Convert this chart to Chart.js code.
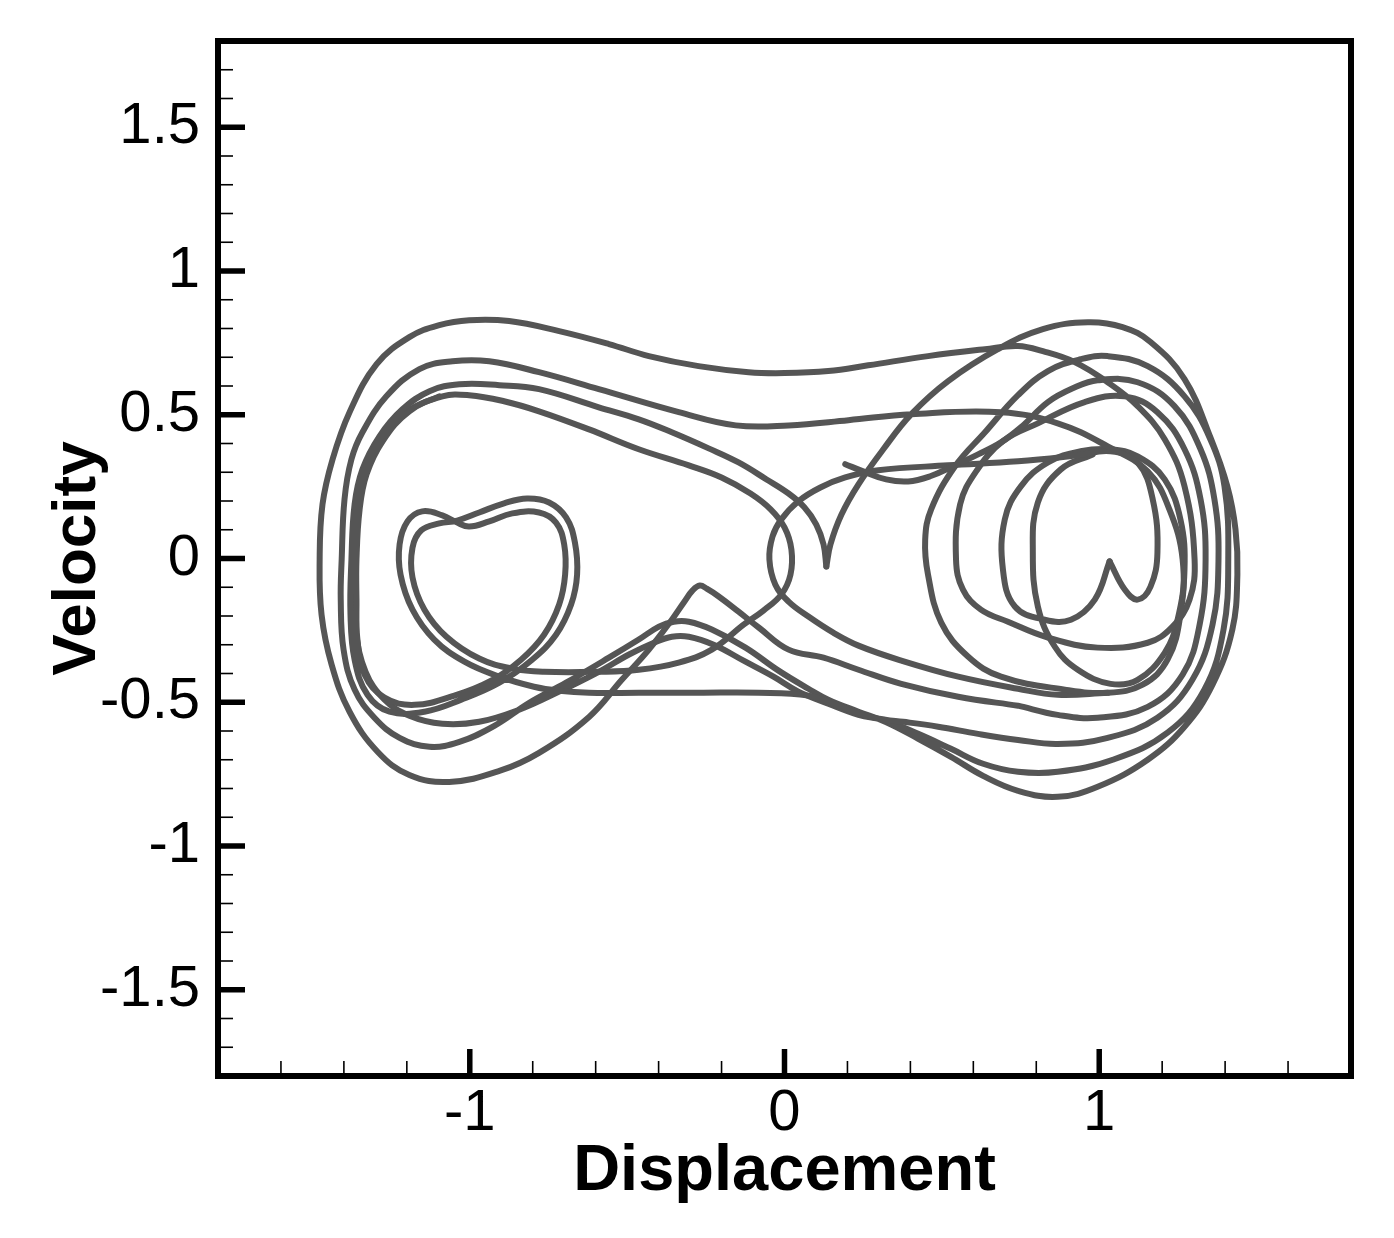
<!DOCTYPE html>
<html>
<head>
<meta charset="utf-8">
<script src="https://cdn.jsdelivr.net/npm/chart.js@4.4.1/dist/chart.umd.min.js"></script>
<style>
  html, body { margin: 0; padding: 0; background: #fff; }
  #wrap { width: 1394px; height: 1238px; position: relative; }
</style>
</head>
<body>
<div id="wrap"><canvas id="phase"></canvas></div>
<script>
// axis setup
const X_RANGE = [-1.8, 1.8];
const Y_RANGE = [-1.8, 1.8];
const xMajorTicks = [-1, 0, 1];
const yMajorTicks = [-1.5, -1, -0.5, 0, 0.5, 1, 1.5];
const X_MINOR_STEP = 0.2;
const Y_MINOR_STEP = 0.1;

// trajectory, traced as [displacement, velocity] pairs, split at the cusps
const startRun = [
  [0.193,0.328],[0.250,0.303],[0.323,0.275],[0.393,0.268],[0.463,0.286],[0.536,0.321],[0.615,0.362],[0.688,0.404],
  [0.751,0.456],[0.837,0.544],[0.916,0.592],[0.995,0.620],[1.122,0.613],[1.239,0.530],[1.322,0.380],[1.366,0.206],
  [1.379,-0.003],[1.360,-0.230],[1.296,-0.422],[1.185,-0.554],[1.027,-0.624],[0.868,-0.645],[0.742,-0.631],
  [0.615,-0.610],[0.488,-0.585],[0.377,-0.568],[0.320,-0.561],
  [0.235,-0.540],[0.155,-0.505],[0.076,-0.477],[-0.082,-0.467],[-0.273,-0.467],[-0.463,-0.467],[-0.621,-0.467],
  [-0.716,-0.460],[-0.796,-0.446],[-0.906,-0.411],[-1.017,-0.359],[-1.113,-0.282],[-1.182,-0.178],[-1.220,-0.056],
  [-1.223,0.049],[-1.198,0.129],[-1.151,0.164],[-1.087,0.150],[-1.040,0.125],[-1.002,0.111],[-0.938,0.129],
  [-0.865,0.157],[-0.780,0.160],[-0.726,0.125],[-0.700,0.049],[-0.697,-0.056],[-0.716,-0.160],[-0.764,-0.265],
  [-0.837,-0.352],[-0.932,-0.425],[-1.049,-0.477],[-1.176,-0.509],
  [-1.271,-0.484],[-1.334,-0.404],[-1.357,-0.282],[-1.360,-0.143],[-1.360,-0.003],[-1.350,0.171],[-1.328,0.293],
  [-1.277,0.408],[-1.192,0.512],[-1.087,0.564],[-1.002,0.568],[-0.891,0.547],[-0.780,0.512],[-0.621,0.449],
  [-0.463,0.380],[-0.304,0.324],[-0.200,0.282],[-0.108,0.226],[-0.044,0.171],[0.000,0.108],[0.022,0.031],
  [0.019,-0.056],[-0.010,-0.125],[-0.067,-0.181],[-0.130,-0.230],[-0.231,-0.317],[-0.336,-0.362],[-0.463,-0.387],
  [-0.590,-0.394],[-0.764,-0.394],[-0.865,-0.383],[-0.970,-0.348],[-1.074,-0.272],[-1.144,-0.178],[-1.182,-0.066],
  [-1.182,0.038],[-1.154,0.098],[-1.097,0.122],[-1.040,0.132],[-0.970,0.160],[-0.891,0.192],[-0.818,0.209],
  [-0.748,0.195],[-0.694,0.143],[-0.666,0.056],[-0.659,-0.056],[-0.678,-0.160],[-0.726,-0.265],[-0.802,-0.352],
  [-0.906,-0.432],[-1.027,-0.491],[-1.144,-0.533],
  [-1.255,-0.533],[-1.325,-0.474],[-1.366,-0.352],[-1.379,-0.195],[-1.376,-0.003],[-1.366,0.188],[-1.341,0.310],
  [-1.287,0.425],[-1.214,0.519],[-1.128,0.582],[-1.033,0.606],[-0.906,0.603],[-0.780,0.589],[-0.590,0.526],
  [-0.463,0.484],[-0.358,0.439],[-0.241,0.383],[-0.146,0.334],[-0.057,0.275],[0.013,0.226],[0.063,0.178],
  [0.101,0.118],[0.124,0.049],[0.133,-0.028]
];

const cuspRun = [
  [0.133,-0.028],[0.146,0.049],[0.181,0.153],[0.235,0.258],[0.314,0.380],[0.403,0.502],[0.520,0.617],[0.678,0.728],
  [0.821,0.798],[0.964,0.822],[1.074,0.805],[1.163,0.753],[1.271,0.624],[1.353,0.422],[1.407,0.251],[1.433,0.101],
  [1.439,-0.056],[1.423,-0.247],[1.360,-0.439],[1.271,-0.585],[1.154,-0.700],[0.995,-0.794],[0.868,-0.829],
  [0.742,-0.808],[0.631,-0.756],[0.529,-0.690],[0.425,-0.627],[0.320,-0.568],
  [0.235,-0.533],[0.139,-0.491],[0.076,-0.453],[-0.019,-0.390],[-0.124,-0.310],[-0.231,-0.247],[-0.304,-0.220],
  [-0.352,-0.220],[-0.399,-0.237],[-0.463,-0.282],[-0.558,-0.345],[-0.694,-0.432],[-0.811,-0.502],[-0.922,-0.582],
  [-1.033,-0.638],[-1.128,-0.655],[-1.223,-0.624],[-1.303,-0.554],[-1.366,-0.456],[-1.401,-0.317],[-1.410,-0.143],
  [-1.407,-0.003],[-1.398,0.206],[-1.376,0.345],[-1.341,0.439],[-1.265,0.564],[-1.160,0.659],[-1.055,0.686],
  [-0.938,0.686],[-0.780,0.648],[-0.590,0.589],[-0.336,0.509],[-0.155,0.463],[0.013,0.463],[0.203,0.481],
  [0.403,0.502],[0.688,0.509],[0.868,0.470],[1.027,0.390],[1.154,0.303],[1.223,0.171],[1.265,-0.003],
  [1.258,-0.195],[1.217,-0.352],[1.138,-0.439],[1.027,-0.467],[0.891,-0.456],[0.688,-0.411],[0.583,-0.341],
  [0.498,-0.223],[0.456,-0.056],[0.447,0.066],[0.466,0.171],[0.542,0.321],[0.637,0.439],[0.742,0.568],
  [0.837,0.652],[0.941,0.693],[1.027,0.704],[1.154,0.669],[1.271,0.564],[1.353,0.415],[1.398,0.251],
  [1.410,-0.003],[1.395,-0.247],[1.334,-0.456],[1.217,-0.606],[1.043,-0.700],[0.868,-0.742],[0.742,-0.742],
  [0.631,-0.714],[0.529,-0.662],[0.425,-0.610],[0.320,-0.564],
  [0.235,-0.544],[0.139,-0.505],[0.044,-0.463],[-0.035,-0.411],[-0.124,-0.359],[-0.225,-0.300],[-0.304,-0.272],
  [-0.358,-0.272],[-0.415,-0.293],[-0.494,-0.334],[-0.590,-0.394],[-0.716,-0.463],[-0.843,-0.526],[-0.970,-0.568],
  [-1.087,-0.575],[-1.192,-0.547],[-1.271,-0.491],[-1.331,-0.394],[-1.363,-0.247],[-1.369,-0.108],[-1.366,0.014],
  [-1.357,0.188],[-1.331,0.310],[-1.281,0.415],[-1.198,0.512],[-1.097,0.564]
];

const outerRun = [
  [0.742,-0.512],[0.552,-0.481],[0.371,-0.436],[0.235,-0.387],[0.124,-0.345],[0.013,-0.317],[-0.082,-0.240],
  [-0.146,-0.185],[-0.209,-0.132],[-0.247,-0.105],[-0.269,-0.094],[-0.292,-0.111],[-0.320,-0.153],[-0.358,-0.213],
  [-0.431,-0.317],[-0.517,-0.422],[-0.621,-0.551],[-0.780,-0.676],[-0.906,-0.739],[-1.065,-0.777],[-1.192,-0.753],
  [-1.293,-0.672],[-1.382,-0.533],[-1.439,-0.369],[-1.471,-0.195],[-1.477,-0.003],[-1.468,0.188],[-1.436,0.345],
  [-1.382,0.509],[-1.296,0.676],[-1.192,0.770],[-1.097,0.812],[-1.002,0.829],[-0.875,0.826],[-0.716,0.791],
  [-0.558,0.746],[-0.431,0.704],[-0.273,0.669],[-0.114,0.648],[0.000,0.645],[0.139,0.652],[0.266,0.672],
  [0.456,0.704],[0.637,0.728],[0.742,0.739],[0.821,0.721],[0.922,0.683],[1.027,0.613],[1.122,0.530],[1.208,0.415],
  [1.271,0.251],[1.303,-0.003],[1.287,-0.143],[1.233,-0.237],[1.154,-0.293],[0.995,-0.310],[0.837,-0.275],
  [0.710,-0.220],[0.624,-0.178],[0.567,-0.108],[0.545,-0.003],[0.558,0.188],[0.609,0.303],[0.694,0.408],
  [0.805,0.470],[0.954,0.544],[1.081,0.564],[1.185,0.509],[1.271,0.380],[1.322,0.206],[1.338,-0.003],
  [1.319,-0.230],[1.265,-0.404],[1.154,-0.516],[0.995,-0.554],[0.868,-0.544],[0.742,-0.512]
];

const ovalRun = [
  [1.027,-0.467],[0.868,-0.474],[0.742,-0.453],[0.552,-0.411],[0.371,-0.355],[0.235,-0.303],[0.155,-0.258],
  [0.076,-0.202],[0.013,-0.150],[-0.029,-0.091],[-0.048,-0.003],[-0.038,0.077],[-0.010,0.136],[0.044,0.199],
  [0.114,0.247],[0.193,0.282],[0.298,0.307],[0.520,0.324],[0.742,0.338],[0.932,0.359],[1.036,0.373],
  [1.122,0.334],[1.170,0.206],[1.185,0.021],[1.163,-0.098],[1.122,-0.143],[1.081,-0.108],[1.033,-0.010]
];

const heartRun = [
  [1.033,-0.010],[0.986,-0.143],[0.910,-0.213],[0.827,-0.213],[0.732,-0.167],[0.694,-0.038],[0.700,0.136],
  [0.751,0.251],[0.837,0.334],[0.941,0.373],[1.036,0.380],[1.122,0.355],[1.208,0.275],[1.258,0.136],
  [1.271,-0.038],[1.249,-0.213],[1.208,-0.328],[1.122,-0.422],[1.036,-0.436],[0.932,-0.387],[0.859,-0.307],
  [0.805,-0.167],[0.789,0.021],[0.805,0.195],[0.878,0.310],[0.979,0.362]
];

const runs = [startRun, cuspRun, outerRun, ovalRun, heartRun];

const LINE_COLOR = 'rgb(85,85,85)';
const LINE_WIDTH = 6;
const FONT = "'Liberation Sans', Arial, sans-serif";

function stepsBetween(lo, hi, step, skip) {
  const out = [];
  const n = Math.round((hi - lo) / step);
  for (let i = 1; i < n; i++) {
    const v = +(lo + i * step).toFixed(3);
    if (!skip.some(s => Math.abs(s - v) < 1e-6)) out.push(v);
  }
  return out;
}

// no automatic label overflow padding: the frame sits where the original has it
function fixBox(s, key, size) {
  s[key] = size;
  s.paddingTop = 0; s.paddingBottom = 0; s.paddingLeft = 0; s.paddingRight = 0;
}

// frame and inward ticks, drawn over the data like the original
const frameAndTicks = {
  id: 'frameAndTicks',
  afterDraw(chart) {
    const { ctx, chartArea: a, scales: { x, y } } = chart;
    const seg = (x1, y1, x2, y2) => { ctx.beginPath(); ctx.moveTo(x1, y1); ctx.lineTo(x2, y2); ctx.stroke(); };
    ctx.save();
    ctx.strokeStyle = '#000';
    ctx.lineWidth = 1.6;
    stepsBetween(X_RANGE[0], X_RANGE[1], X_MINOR_STEP, xMajorTicks).forEach(v => {
      const p = x.getPixelForValue(v); seg(p, a.bottom, p, a.bottom - 15);
    });
    stepsBetween(Y_RANGE[0], Y_RANGE[1], Y_MINOR_STEP, yMajorTicks).forEach(v => {
      const p = y.getPixelForValue(v); seg(a.left, p, a.left + 15, p);
    });
    ctx.lineWidth = 5.5;
    xMajorTicks.forEach(v => { const p = x.getPixelForValue(v); seg(p, a.bottom, p, a.bottom - 27); });
    yMajorTicks.forEach(v => { const p = y.getPixelForValue(v); seg(a.left, p, a.left + 27, p); });
    ctx.lineWidth = 6;
    ctx.strokeRect(a.left, a.top, a.right - a.left, a.bottom - a.top);
    ctx.restore();
  }
};

new Chart(document.getElementById('phase'), {
  type: 'scatter',
  data: {
    datasets: runs.map(r => ({
      data: r.map(([x, y]) => ({ x, y })),
      showLine: true,
      borderColor: LINE_COLOR,
      borderWidth: LINE_WIDTH,
      borderCapStyle: 'round',
      borderJoinStyle: 'round',
      pointRadius: 0,
      tension: 0.4,
      fill: false
    }))
  },
  options: {
    responsive: true,
    maintainAspectRatio: false,
    animation: false,
    devicePixelRatio: 1,
    elements: { line: { borderWidth: LINE_WIDTH, borderColor: LINE_COLOR } },
    layout: { padding: { top: 41, right: 43, bottom: 0, left: 0 } },
    plugins: { legend: { display: false }, tooltip: { enabled: false } },
    scales: {
      x: {
        min: X_RANGE[0], max: X_RANGE[1],
        grid: { display: false, drawTicks: false },
        border: { display: false },
        afterFit: s => fixBox(s, 'height', 162),
        afterBuildTicks: s => { s.ticks = xMajorTicks.map(v => ({ value: v })); },
        ticks: {
          color: '#000', padding: 3, maxRotation: 0, autoSkip: false,
          font: { family: FONT, size: 58 },
          callback: v => String(+v.toFixed(2))
        },
        title: {
          display: true, text: 'Displacement', color: '#000',
          font: { family: FONT, size: 65, weight: 'bold' },
          padding: { top: 0, bottom: 27 }
        }
      },
      y: {
        min: Y_RANGE[0], max: Y_RANGE[1],
        grid: { display: false, drawTicks: false },
        border: { display: false },
        afterFit: s => fixBox(s, 'width', 218),
        afterBuildTicks: s => { s.ticks = yMajorTicks.map(v => ({ value: v })); },
        ticks: {
          color: '#000', padding: 18, autoSkip: false,
          font: { family: FONT, size: 58 },
          callback: v => String(+v.toFixed(2))
        },
        title: {
          display: true, text: 'Velocity', color: '#000',
          font: { family: FONT, size: 62, weight: 'bold' },
          padding: { top: 41, bottom: 0 }
        }
      }
    }
  },
  plugins: [frameAndTicks]
});
</script>
</body>
</html>
